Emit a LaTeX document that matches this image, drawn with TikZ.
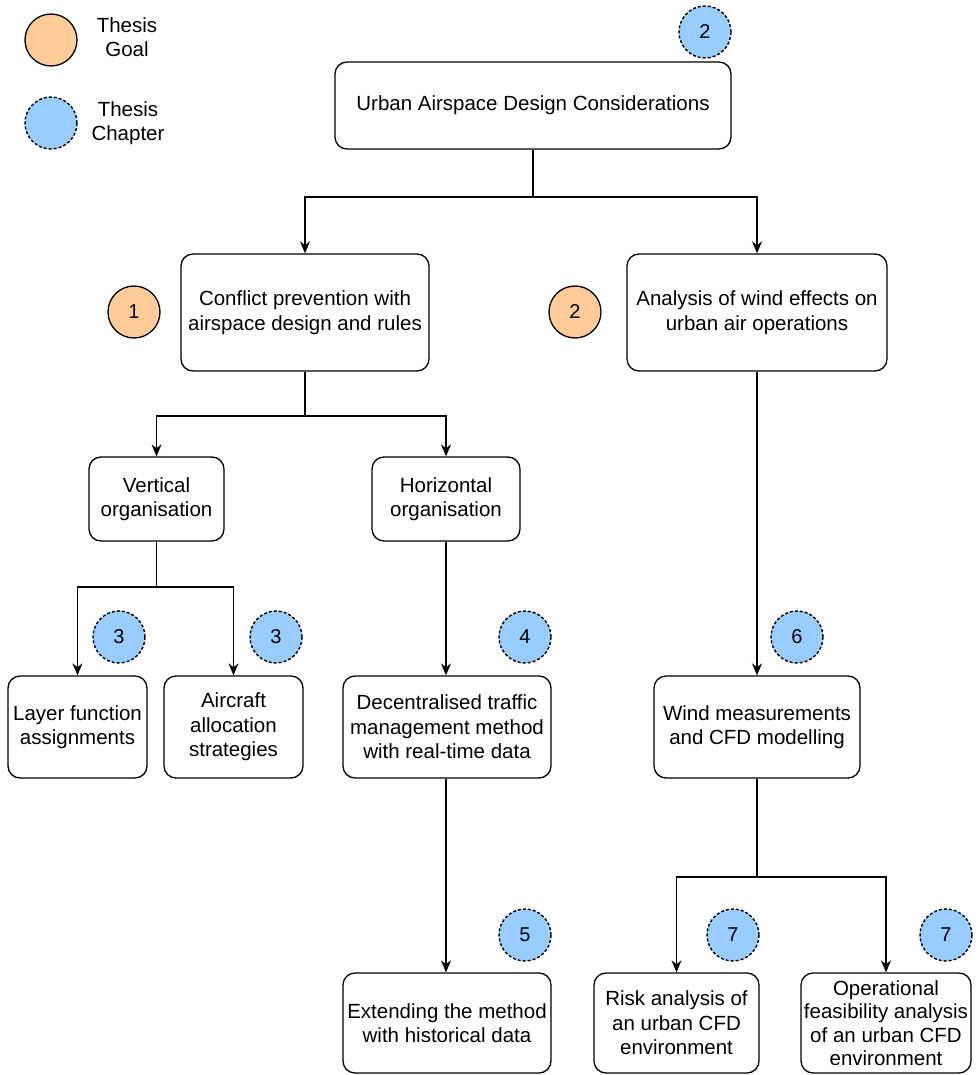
\documentclass[tikz,border=0pt]{standalone}
\usepackage{fontspec}
\setmainfont{Liberation Sans}
\usetikzlibrary{arrows.meta}
\definecolor{goalc}{HTML}{FFCC99}
\definecolor{chapc}{HTML}{99CCFF}
\begin{document}
\begin{tikzpicture}[x=1pt,y=-1pt,
  box/.style={draw, rounded corners=12pt, line width=1.3pt, align=center, inner sep=1pt, font=\fontsize{20.5}{24.5}\selectfont},
  goal/.style={circle, draw, line width=1.3pt, fill=goalc, minimum size=52pt, inner sep=0pt, font=\fontsize{20}{22}\selectfont},
  chap/.style={circle, draw, dash pattern=on 3pt off 2pt, line width=1.4pt, fill=chapc, minimum size=52pt, inner sep=0pt, font=\fontsize{20}{22}\selectfont},
  lbl/.style={align=center, font=\fontsize{20.5}{24.5}\selectfont},
  arr/.style={line width=1.3pt, -{Stealth[length=12pt,width=10pt]}},
  ln/.style={line width=1.3pt}]
\useasboundingbox (0,0) rectangle (978,1075);
% legend
\node[goal] (lg) at (51,40) {};
\node[lbl] (lgt) at (127,37) {Thesis\\Goal};
\node[chap] (lc) at (51,123) {};
\node[lbl] (lct) at (128,123) {Thesis\\Chapter};
% boxes
\node[box, minimum width=396pt, minimum height=87pt] (top) at (533,105.5) {Urban Airspace Design Considerations};
\node[box, minimum width=248pt, minimum height=117pt] (conf) at (305,312.5) {Conflict prevention with\\airspace design and rules};
\node[box, minimum width=260pt, minimum height=117pt] (wind) at (757,312.5) {Analysis of wind effects on\\urban air operations};
\node[box, minimum width=135pt, minimum height=84pt] (vert) at (156.5,499) {Vertical\\organisation};
\node[box, minimum width=148pt, minimum height=84pt] (hor) at (446,499) {Horizontal\\organisation};
\node[box, minimum width=139pt, minimum height=102pt] (layer) at (77.5,727) {Layer function\\assignments};
\node[box, minimum width=139pt, minimum height=102pt] (alloc) at (233.5,727) {Aircraft\\allocation\\strategies};
\node[box, minimum width=208pt, minimum height=102pt] (dec) at (447,727) {Decentralised traffic\\management method\\with real-time data};
\node[box, minimum width=206pt, minimum height=102pt] (meas) at (757,727) {Wind measurements\\and CFD modelling};
\node[box, minimum width=208pt, minimum height=100pt] (ext) at (447,1023) {Extending the method\\with historical data};
\node[box, minimum width=165pt, minimum height=100pt] (risk) at (676.5,1023) {Risk analysis of\\an urban CFD\\environment};
\node[box, minimum width=170pt, minimum height=100pt, inner sep=0pt, font=\fontsize{20.5}{23.5}\selectfont] (oper) at (886,1023) {Operational\\feasibility analysis\\of an urban CFD\\environment};
% markers
\node[chap] (c2) at (705,32) {2};
\node[goal] (g1) at (134,312) {1};
\node[goal] (g2) at (575,312) {2};
\node[chap] (c3a) at (119,637) {3};
\node[chap] (c3b) at (276,637) {3};
\node[chap] (c4) at (525,637) {4};
\node[chap] (c6) at (797,637) {6};
\node[chap] (c5) at (525,935) {5};
\node[chap] (c7a) at (733,935) {7};
\node[chap] (c7b) at (946,935) {7};
% connectors
\coordinate (s1) at (533,197);
\draw[ln] (top.south) -- (s1);
\draw[arr] (s1) -| (conf.north);
\draw[arr] (s1) -| (wind.north);
\coordinate (s2) at (305,416);
\draw[ln] (conf.south) -- (s2);
\draw[arr] (s2) -| (vert.north);
\draw[arr] (s2) -| (hor.north);
\coordinate (s3) at (156.5,587);
\draw[ln] (vert.south) -- (s3);
\draw[arr] (s3) -| (layer.north);
\draw[arr] (s3) -| (alloc.north);
\draw[arr] (hor.south) -- (hor.south |- dec.north);
\draw[arr] (wind.south) -- (meas.north);
\draw[arr] (dec.south -| hor.south) -- (hor.south |- ext.north);
\coordinate (s4) at (757,877);
\draw[ln] (meas.south) -- (s4);
\draw[arr] (s4) -| (risk.north);
\draw[arr] (s4) -| (oper.north);
\end{tikzpicture}
\end{document}
